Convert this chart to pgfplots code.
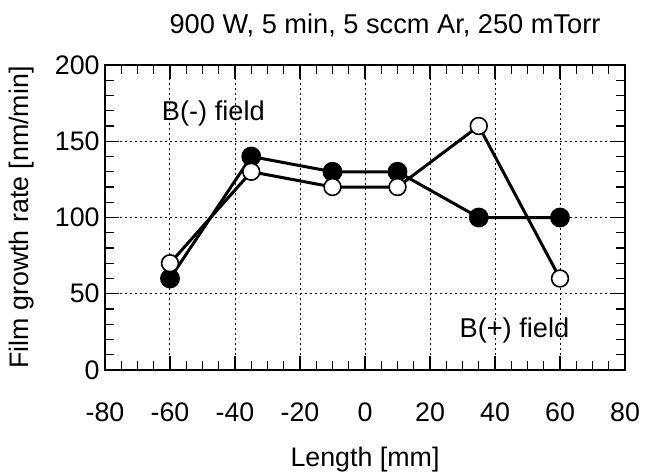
\documentclass[border=0pt]{standalone}
\usepackage{fontspec}
\setmainfont{Liberation Sans}
\usepackage{pgfplots}
\pgfplotsset{compat=1.18}

\begin{document}
\begin{tikzpicture}
\begin{axis}[
  name=ax,
  scale only axis, width=260pt, height=152.5pt,
  xmin=-80, xmax=80, ymin=0, ymax=200,
  xtick={-80,-60,...,80}, ytick={0,50,...,200},
  minor x tick num=3, minor y tick num=4,
  tick align=inside, major tick length=7pt, minor tick length=4.5pt,
  xtick pos=both, ytick pos=both,
  grid=major, major grid style={black, line width=0.5pt, dash pattern=on 1pt off 1.5pt},
  axis line style={line width=0.9pt},
  every tick/.style={black, line width=0.6pt},
  /pgf/number format/assume math mode=true,
  tick label style={font=\fontsize{13.4}{16}\selectfont, inner sep=0pt},
  xticklabel style={anchor=north, yshift=-16pt},
  yticklabel style={anchor=east, xshift=-2.5pt},
  label style={font=\fontsize{13.4}{16}\selectfont, inner sep=0pt},
  xlabel={Length [mm]}, ylabel={Film growth rate [nm/min]},
  xlabel style={at={([yshift=-48pt]axis description cs:0.5,0)}, anchor=base},
  ylabel style={at={([xshift=-38pt]axis description cs:0,0.5)}, anchor=base},
  every axis title shift=0pt,
  title={900 W, 5 min, 5 sccm Ar, 250 mTorr},
  title style={font=\fontsize{13.6}{16}\selectfont, inner sep=0pt,
    at={([xshift=10pt,yshift=16pt]axis description cs:0.5,1)}, anchor=base},
  clip=false,
]
% filled circles
\addplot[black, line width=1.5pt, mark=*, mark size=4.2pt, mark options={fill=black}]
  coordinates {(-60,60) (-35,140) (-10,130) (10,130) (35,100) (60,100)};
% open circles
\addplot[black, line width=1.5pt, mark=*, mark size=4.2pt, mark options={fill=white, line width=0.8pt}]
  coordinates {(-60,70) (-35,130) (-10,120) (10,120) (35,160) (60,60)};
\node[anchor=west, inner sep=0, font=\fontsize{13.6}{16}\selectfont] at (axis cs:-62.6,168) {B(-) field};
\node[anchor=west, inner sep=0, font=\fontsize{13.6}{16}\selectfont] at (axis cs:29,26) {B(+) field};
\end{axis}
\pgfresetboundingbox
\path[use as bounding box] ([xshift=-52.5pt,yshift=-51.5pt]ax.south west) rectangle ([xshift=10pt,yshift=32.5pt]ax.north east);
\end{tikzpicture}
\end{document}
